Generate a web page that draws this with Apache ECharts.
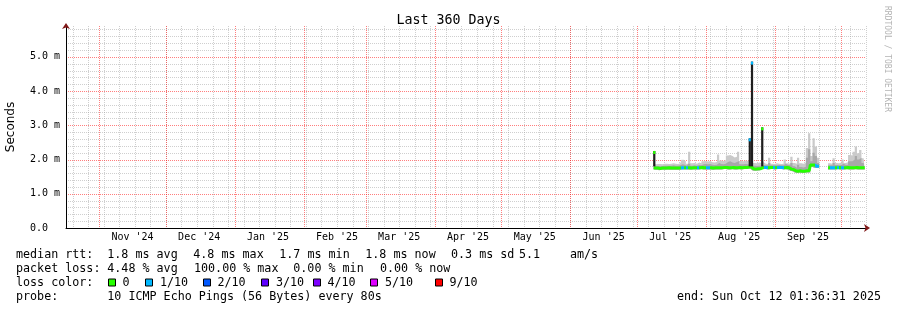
<!DOCTYPE html>
<html><head><meta charset="utf-8">
<script src="https://cdn.jsdelivr.net/npm/echarts@6/dist/echarts.min.js"></script>
<style>html,body{margin:0;padding:0;background:#fff}#c{width:897px;height:310px}</style>
</head><body><div id="c"></div><script>
// ---------- time frame ----------
const START = Date.UTC(2024, 9, 17, 1, 36, 31);
const END = Date.UTC(2025, 9, 12, 1, 36, 31);
const DAY = 86400000;
const FIRST_DAY = Date.UTC(2025, 6, 8, 12);     // first daily sample (Jul 8 2025)
const FIRST_SUNDAY = Date.UTC(2024, 9, 20);     // weekly minor grid

// ---------- data (milliseconds, one value per day from Jul 8 2025) ----------
const median = [
 1.76,1.75,1.75,1.74,1.75,1.75,1.75,1.76,1.75,1.75,
 1.75,1.75,1.75,1.76,1.76,1.76,1.76,1.75,1.76,1.76,
 1.76,1.76,1.77,1.76,1.76,1.76,1.76,1.75,1.76,1.76,
 1.76,1.76,1.77,1.77,1.76,1.76,1.77,1.76,1.76,1.77,
 1.76,1.77,1.77,1.78,1.78,1.73,1.72,1.73,1.73,1.76,
 1.77,1.77,1.76,1.77,1.77,1.76,1.77,1.77,1.77,1.76,
 1.77,1.76,1.72,1.71,1.67,1.66,1.67,1.66,1.66,1.67,
 1.67,1.84,1.84,1.80,1.80,null,null,null,null,1.76,
 1.76,1.76,1.76,1.77,1.76,1.76,1.76,1.77,1.76,1.76,
 1.76,1.77,1.76,1.76,1.76,1.76];
const smokeLow = [
 1.71,1.70,1.70,1.69,1.70,1.70,1.70,1.71,1.70,1.70,
 1.70,1.70,1.70,1.71,1.71,1.71,1.71,1.70,1.71,1.71,
 1.71,1.71,1.72,1.71,1.71,1.71,1.71,1.70,1.71,1.71,
 1.71,1.71,1.72,1.72,1.71,1.71,1.72,1.71,1.71,1.72,
 1.71,1.72,1.72,1.73,1.73,1.68,1.67,1.68,1.68,1.71,
 1.72,1.72,1.71,1.72,1.72,1.71,1.72,1.72,1.72,1.71,
 1.72,1.71,1.67,1.66,1.62,1.61,1.62,1.61,1.61,1.62,
 1.62,1.78,1.78,1.75,1.75,null,null,null,null,1.71,
 1.71,1.71,1.71,1.72,1.71,1.71,1.71,1.72,1.71,1.71,
 1.71,1.72,1.71,1.71,1.71,1.71];
const smokeMid = [
 1.84,1.81,1.81,1.80,1.81,1.82,1.82,1.82,1.82,1.83,
 1.82,1.82,1.83,1.86,1.85,1.82,1.88,1.82,1.83,1.82,
 1.84,1.83,1.86,1.87,1.86,1.87,1.85,1.84,1.85,1.90,
 1.87,1.86,1.88,1.93,1.95,1.91,1.90,1.93,1.96,1.86,
 1.86,1.87,1.86,1.90,1.90,1.82,1.81,1.82,1.82,1.84,
 1.83,1.83,1.90,1.83,1.83,1.83,1.84,1.83,1.83,1.88,
 1.84,1.83,1.90,1.80,1.76,1.85,1.78,1.77,1.79,2.05,
 2.30,1.95,2.20,2.10,1.90,null,null,null,null,1.83,
 1.83,1.90,1.84,1.83,1.84,1.88,1.84,1.85,1.95,1.95,
 2.00,2.10,2.00,2.05,1.90,1.90];
const smokeHigh = [
 1.90,1.86,1.87,1.87,1.86,1.88,1.88,1.87,1.88,1.89,
 1.88,1.87,1.89,1.99,1.95,1.88,2.23,1.89,1.90,1.88,
 1.91,1.89,1.95,1.96,1.94,1.96,1.92,1.91,1.93,2.15,
 1.97,1.96,1.98,2.12,2.13,2.10,2.06,2.08,2.23,1.96,
 1.95,1.97,1.96,2.00,1.98,1.90,1.89,1.91,1.90,1.92,
 1.88,1.87,2.05,1.88,1.87,1.89,1.88,1.87,1.88,2.00,
 1.89,1.88,2.08,1.90,1.88,2.05,1.89,1.88,1.90,2.34,
 2.77,2.10,2.62,2.38,2.05,null,null,null,null,1.89,
 1.88,2.04,1.90,1.89,1.91,2.00,1.90,1.92,2.13,2.12,
 2.23,2.38,2.18,2.28,2.04,2.05];
const loss = [
 0,0,0,0,0,0,0,0,0,0,
 0,0,0,1,0,1,0,0,0,0,
 1,0,0,0,1,1,0,0,0,0,
 0,0,0,0,0,0,0,0,0,0,
 0,0,0,0,0,0,0,0,0,0,
 1,1,0,0,1,0,1,1,1,0,
 0,0,0,0,0,0,0,0,0,0,
 0,0,0,1,1,0,0,0,0,0,
 1,1,0,1,0,1,0,0,0,0,
 0,0,0,0,0,0];
const spikeTimes = ['2025-07-08T19:00:00Z','2025-08-20T18:30:00Z','2025-08-21T18:30:00Z','2025-08-26T09:00:00Z'];
const spikeLow  = [1.80, 1.80, 1.80, 1.80];
const spikeHigh = [2.25, 2.62, 4.86, 2.94];
const spikeLoss = [0, 1, 1, 0];

const lossColors = ['#26ff00','#00b8ff','#0059ff','#5e00ff','#7e00ff','#dd00ff','#ff0000'];
const lossLabels = ['0','1/10','2/10','3/10','4/10','5/10','9/10'];

const monthStarts = ['2024-11-01','2024-12-01','2025-01-01','2025-02-01','2025-03-01','2025-04-01',
  '2025-05-01','2025-06-01','2025-07-01','2025-08-01','2025-09-01','2025-10-01'];
const labelDates = ['2024-11-16','2024-12-16','2025-01-16','2025-02-16','2025-03-16','2025-04-16',
  '2025-05-16','2025-06-16','2025-07-16','2025-08-16','2025-09-16'];
const tickLabels = ["Nov '24","Dec '24","Jan '25","Feb '25","Mar '25","Apr '25",
  "May '25","Jun '25","Jul '25","Aug '25","Sep '25"];
const yMajor = [1, 2, 3, 4, 5];

const statsRtt = ['median rtt:','1.8 ms avg','4.8 ms max','1.7 ms min','1.8 ms now','0.3 ms sd','5.1','am/s'];
const statsLoss = ['packet loss:','4.48 % avg','100.00 % max','0.00 % min','0.00 % now'];
const probeText = ['probe:','10 ICMP Echo Pings (56 Bytes) every 80s'];
const endText = 'end: Sun Oct 12 01:36:31 2025';

// ---------- layout (style only) ----------
const rttX = [16,107.3,193.3,279.3,365.3,451,519,570];
const lossX = [16,107.3,194,293.3,380];
const boxX = [108.5,145.5,203.5,261.5,313.5,370.5,435.5];
const boxLabelX = [122.5,160,217.5,276,327.5,385,449.5];
const rowY = [254.5,268.5,282.5,296.5];
const MONO = '"DejaVu Sans Mono", monospace';
const LEG_FONT = '11.7px ' + MONO;
const MAJOR_C = 'rgba(255,20,20,0.55)';
const MINOR_C = 'rgba(160,160,160,0.5)';

// ---------- build ----------
const days = median.map((_, i) => FIRST_DAY + i * DAY);
const pair = arr => arr.map((v, i) => [days[i], v]);
const diff = (a, b) => a.map((v, i) => (v == null || b[i] == null) ? null : +(v - b[i]).toFixed(4));
const utc = s => Date.parse(s + (s.length === 10 ? 'T00:00:00Z' : ''));
const labelTimes = labelDates.map(utc);

// grid line positions: [value, isMajor]
const vGrid = [];
for (let t = FIRST_SUNDAY; t < END; t += 7 * DAY) vGrid.push([t, 0]);
monthStarts.forEach(s => vGrid.push([utc(s), 1]));
const hGrid = [];
for (let k = 1; k <= 29; k++) if (k % 5 !== 0) hGrid.push([START, k / 5, 0]);
yMajor.forEach(v => hGrid.push([START, v, 1]));

const pieces = [];
loss.forEach((l, i) => {
  if (l > 0 && median[i] != null) pieces.push({gte: days[i] - DAY / 2, lt: days[i] + DAY / 2, color: lossColors[l]});
});

const graphic = [];
const txt = (text, x, y, extra) => ({type: 'text', x, y, silent: true,
  style: Object.assign({text, font: LEG_FONT, fill: '#000', align: 'left', verticalAlign: 'middle'}, extra || {})});
statsRtt.forEach((s, i) => graphic.push(txt(s, rttX[i], rowY[0])));
statsLoss.forEach((s, i) => graphic.push(txt(s, lossX[i], rowY[1])));
graphic.push(txt('loss color:', 16, rowY[2]));
lossLabels.forEach((s, i) => {
  graphic.push({type: 'rect', silent: true, shape: {x: boxX[i], y: rowY[2] - 3.5, width: 7, height: 7},
    style: {fill: lossColors[i], stroke: '#000', lineWidth: 1}});
  graphic.push(txt(s, boxLabelX[i], rowY[2]));
});
graphic.push(txt(probeText[0], 16, rowY[3]));
graphic.push(txt(probeText[1], 107.3, rowY[3]));
graphic.push(txt(endText, 881, rowY[3], {align: 'right'}));
const secT = txt('Seconds', 11, 127, {font: '12px "DejaVu Sans", sans-serif', align: 'center'});
secT.rotation = Math.PI / 2;
graphic.push(secT);
const rrdT = txt('RRDTOOL / TOBI OETIKER', 887, 59, {font: '8px ' + MONO, fill: '#b4b4b4', align: 'center'});
rrdT.rotation = -Math.PI / 2;
graphic.push(rrdT);

const chart = echarts.init(document.getElementById('c'), null, {renderer: 'canvas', width: 897, height: 310});
chart.setOption({
  animation: false,
  backgroundColor: '#fff',
  title: {text: 'Last 360 Days', left: 'center', top: 9,
    textStyle: {fontFamily: MONO, fontSize: 13.3, fontWeight: 'normal', color: '#000'}},
  grid: {left: 66, right: 31, top: 26, bottom: 82, containLabel: false},
  xAxis: [{
    type: 'time', min: START, max: END, z: 10,
    axisLine: {show: true, lineStyle: {color: '#000', width: 1}},
    axisTick: {show: false}, splitLine: {show: false}, axisLabel: {show: false}
  }, {
    type: 'value', min: START, max: END, position: 'bottom', z: 9,
    axisLine: {show: false}, axisTick: {show: false}, splitLine: {show: false},
    axisLabel: {show: true, customValues: labelTimes, margin: 4, color: '#000', fontFamily: MONO, fontSize: 10,
      formatter: v => { const k = labelTimes.indexOf(v); return k >= 0 ? tickLabels[k] : ''; }}
  }, {
    type: 'value', min: 0, max: 1, position: 'bottom', z: 11,
    axisLine: {show: true, symbol: ['none', 'arrow'], symbolSize: [6, 6], symbolOffset: [0, 4],
      lineStyle: {color: '#801818', width: 0}},
    axisTick: {show: false}, axisLabel: {show: false}, splitLine: {show: false}
  }],
  yAxis: [{
    type: 'value', min: 0, max: 5.9, interval: 1, z: 10,
    axisLine: {show: true, lineStyle: {color: '#000', width: 1}},
    axisTick: {show: false}, splitLine: {show: false},
    axisLabel: {align: 'left', margin: 36, color: '#000', fontFamily: MONO, fontSize: 10,
      formatter: v => v === 0 ? '0.0' : (Number.isInteger(v) ? v.toFixed(1) + ' m' : '')}
  }, {
    type: 'value', min: 0, max: 1, position: 'left', z: 11,
    axisLine: {show: true, symbol: ['none', 'arrow'], symbolSize: [6, 6], symbolOffset: [0, 3],
      lineStyle: {color: '#801818', width: 0}},
    axisTick: {show: false}, axisLabel: {show: false}, splitLine: {show: false}
  }],
  visualMap: {type: 'piecewise', show: false, dimension: 0, seriesIndex: 6, pieces,
    outOfRange: {color: lossColors[0]}},
  graphic,
  series: [
    {type: 'custom', name: 'vgrid', z: 1, silent: true, clip: false, data: vGrid, encode: {x: 0, y: 1},
      renderItem: (params, api) => {
        const cs = params.coordSys;
        const x = Math.round(api.coord([api.value(0), 0])[0]) + 0.5;
        return {type: 'line', shape: {x1: x, y1: cs.y, x2: x, y2: cs.y + cs.height},
          style: {stroke: api.value(1) ? MAJOR_C : MINOR_C, lineWidth: 1, lineDash: [1, 1]}, z2: api.value(1) ? 2 : 1};
      }},
    {type: 'custom', name: 'hgrid', z: 1, silent: true, clip: false, data: hGrid, encode: {x: 0, y: 1},
      renderItem: (params, api) => {
        const cs = params.coordSys;
        const y = Math.round(api.coord([api.value(0), api.value(1)])[1]) + 0.5;
        return {type: 'line', shape: {x1: cs.x, y1: y, x2: cs.x + cs.width, y2: y},
          style: {stroke: api.value(2) ? MAJOR_C : MINOR_C, lineWidth: 1, lineDash: [1, 1]}, z2: api.value(2) ? 2 : 1};
      }},
    {type: 'line', name: 'base1', stack: 'light', step: 'middle', data: pair(smokeLow), symbol: 'none',
      lineStyle: {width: 0}, silent: true, z: 2},
    {type: 'line', name: 'smoke', stack: 'light', step: 'middle', data: pair(diff(smokeHigh, smokeLow)), symbol: 'none',
      lineStyle: {width: 0}, areaStyle: {color: '#cacaca', opacity: 1}, silent: true, z: 2},
    {type: 'line', name: 'base2', stack: 'dark', step: 'middle', data: pair(smokeLow), symbol: 'none',
      lineStyle: {width: 0}, silent: true, z: 3},
    {type: 'line', name: 'smokeDark', stack: 'dark', step: 'middle', data: pair(diff(smokeMid, smokeLow)), symbol: 'none',
      lineStyle: {width: 0}, areaStyle: {color: '#a8a8a8', opacity: 1}, silent: true, z: 3},
    {type: 'line', name: 'median', step: 'middle', data: pair(median), symbol: 'none', showSymbol: false,
      lineStyle: {width: 3}, silent: true, z: 4},
    {type: 'custom', name: 'spikes', z: 5, silent: true,
      data: spikeTimes.map((t, i) => [Date.parse(t), spikeLow[i], spikeHigh[i], spikeLoss[i]]),
      encode: {x: 0, y: [1, 2]},
      renderItem: (params, api) => {
        const t = api.value(0);
        const top = api.coord([t, api.value(2)]);
        const bot = api.coord([t, api.value(1)]);
        const w = api.size([DAY, 0])[0];
        return {type: 'group', children: [
          {type: 'rect', shape: {x: top[0] - w / 2, y: top[1], width: w, height: bot[1] - top[1]}, style: {fill: '#1e1e1e'}},
          {type: 'rect', shape: {x: top[0] - w / 2, y: top[1], width: w, height: 3}, style: {fill: lossColors[api.value(3)]}}
        ]};
      }}
  ]
});
</script></body></html>
